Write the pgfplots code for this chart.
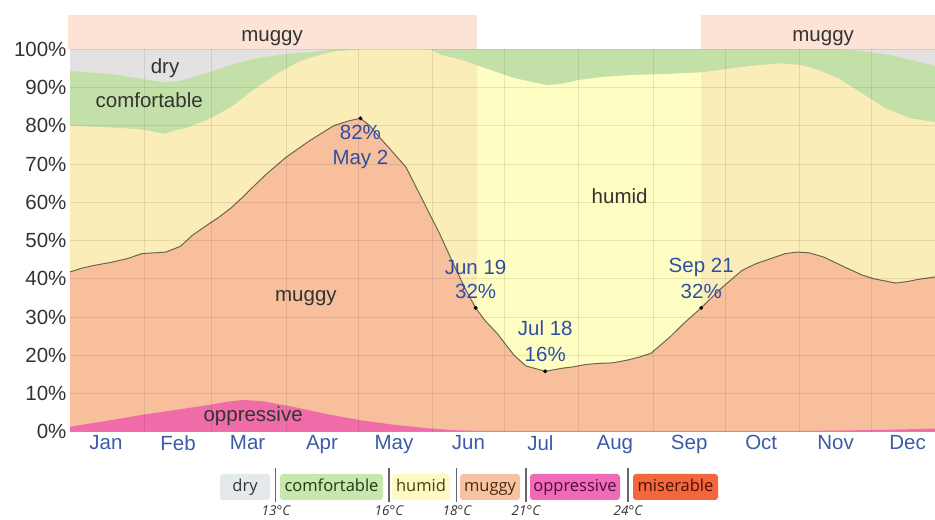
\documentclass[border=0pt]{standalone}
\usepackage{pgfplots}
\usepackage{pgfplotstable}
\pgfplotsset{compat=1.18}
\usepackage{fontspec}
\setmainfont{Liberation Sans}
\newfontfamily\legfont{Open Sans}

\definecolor{drycol}{HTML}{E3E1E1}
\definecolor{comcol}{HTML}{C4E0A9}
\definecolor{humcol}{HTML}{FBEDB7}
\definecolor{humcolmid}{HTML}{FFFEC2}
\definecolor{mugcol}{HTML}{F8BF9D}
\definecolor{oppcol}{HTML}{F06CA9}
\definecolor{bandcol}{HTML}{FCE3D6}
\definecolor{tickblue}{HTML}{3A5BA8}
\definecolor{annblue}{HTML}{2F4FA6}
\definecolor{labgray}{HTML}{333333}
\definecolor{linecol}{HTML}{6B6650}
\definecolor{Ldry}{HTML}{E4E9EC}
\definecolor{Lcom}{HTML}{C7E7AE}
\definecolor{Lhum}{HTML}{FFF9C6}
\definecolor{Lmug}{HTML}{F8C3A2}
\definecolor{Lopp}{HTML}{F06BB5}
\definecolor{Lmis}{HTML}{F4673D}

\pgfplotstableread{
day v
0 100
360.4 100
}\toptab
\pgfplotstableread{
day v
0 94.4
8 94.0
17 93.6
30 92.3
40 91.4
46 91.8
51 92.7
58 94.0
68 96.2
79 97.9
90 98.8
100 99.3
110 100
322 100
330 99.6
342 98.5
352 97.0
360.4 95.7
}\drytab
\pgfplotstableread{
day v
0 80.1
8 79.8
17 79.6
25 79.3
31 79.0
39 77.9
44 78.8
49 79.6
58 81.8
63 83.5
68 85.3
76 89.2
86 93.6
96 97.0
103 98.4
110 99.5
120 100
150 100
155 98.5
163 97.3
169.6 95.8
171 95.5
185 92.5
199 90.6
205 91.0
212 92.0
222 92.8
234 93.3
250 93.6
262.9 94.0
275 95.0
285 95.8
296 96.4
305 95.9
312 94.6
320 92.5
330 88.5
340 84.5
350 82.0
360.4 81.0
}\humtab
\pgfplotstableread{
day v
0 41.8
5 42.8
10 43.5
17 44.3
24 45.3
30 46.6
40 47.0
46 48.5
51 51.4
57 54.0
62 56.1
67 58.5
72 61.4
77 64.5
82 67.5
90 71.8
100 76.2
110 80.1
116 81.3
121 82.0
125 80.0
129 77.0
134 73.5
140 69.2
145 63.0
149 58.0
154 51.8
161 42.2
165 37.0
169 32.4
173 29.0
178 25.7
185 20.0
190 17.2
198 15.8
205 16.6
210 17.0
215 17.6
221 17.9
226 18.0
232 18.7
237 19.5
242 20.5
250 24.8
256 28.5
263 32.4
268 35.5
272 37.9
280 42.2
286 44.0
292 45.3
298 46.6
303 47.0
308 46.8
314 45.7
319 44.2
324 42.7
330 41.0
335 40.0
344 38.9
349 39.3
353 39.8
360.4 40.5
}\mugtab
\pgfplotstableread{
day v
0 1.3
15 2.8
30 4.4
45 5.8
58 7.0
65 7.8
72 8.3
80 8.0
93 6.5
107 4.6
121 3.0
135 1.8
149 0.9
160 0.4
170 0.2
200 0.15
300 0.15
320 0.3
340 0.5
360.4 0.8
}\opptab

\begin{document}
\begin{tikzpicture}
\useasboundingbox (0,0) rectangle (935bp,520bp);
\begin{axis}[
  at={(70bp,88.3bp)}, anchor=south west, scale only axis,
  width=865bp, height=382.2bp,
  xmin=0, xmax=360.4, ymin=0, ymax=100,
  axis on top, clip=false,
  axis line style={draw=none},
  xtick={15,45,74,105,135,166,196,227,258,288,319,349},
  xticklabels={Jan,Feb,Mar,Apr,May,Jun,Jul,Aug,Sep,Oct,Nov,Dec},
  minor xtick={31,59,90,120,151,181,212,243,273,304,334},
  xmajorgrids=false, xminorgrids=true, ymajorgrids=true,
  ytick={0,10,...,100},
  yticklabels={0\%,10\%,20\%,30\%,40\%,50\%,60\%,70\%,80\%,90\%,100\%},
  major tick length=0pt, minor tick length=0pt,
  grid style={black, opacity=0.09, line width=0.9bp},
  minor grid style={black, opacity=0.09, line width=0.9bp},
  tick label style={font=\fontsize{20.5bp}{24bp}\selectfont},
  xticklabel style={text=tickblue},
  yticklabel style={text=labgray},
]
% top band
\fill[bandcol] (axis cs:-0.8,100.2) rectangle (axis cs:169.6,109);
\fill[bandcol] (axis cs:262.9,100.2) rectangle (axis cs:360.4,109);

\addplot[fill=drycol, draw=none] table[x=day,y=v] {\toptab} \closedcycle;
\addplot[fill=comcol, draw=none] table[x=day,y=v] {\drytab} \closedcycle;
\addplot[fill=humcol, draw=none] table[x=day,y=v] {\humtab} \closedcycle;
\addplot[fill=humcolmid, draw=none, restrict x to domain=169.5:263] table[x=day,y=v] {\humtab} \closedcycle;
\addplot[fill=mugcol, draw=none] table[x=day,y=v] {\mugtab} \closedcycle;
\addplot[fill=oppcol, draw=none] table[x=day,y=v] {\opptab} \closedcycle;

\addplot[linecol, line width=1bp] table[x=day,y=v] {\mugtab};
\addplot[only marks, mark=*, mark size=1.8bp, black] coordinates {(121,82) (169,32.4) (198,15.8) (263,32.4)};

% labels
\node[text=labgray, font=\fontsize{20.5bp}{24bp}\selectfont] at (axis cs:84.2,102.9) {muggy};
\node[text=labgray, font=\fontsize{20.5bp}{24bp}\selectfont] at (axis cs:313.8,102.9) {muggy};
\node[text=labgray, font=\fontsize{20.5bp}{24bp}\selectfont] at (axis cs:39.6,95.0) {dry};
\node[text=labgray, font=\fontsize{20.5bp}{24bp}\selectfont] at (axis cs:33,86.8) {comfortable};
\node[text=labgray, font=\fontsize{20.5bp}{24bp}\selectfont] at (axis cs:229,61.6) {humid};
\node[text=labgray, font=\fontsize{20.5bp}{24bp}\selectfont] at (axis cs:98.3,35) {muggy};
\node[text=labgray, font=\fontsize{20.5bp}{24bp}\selectfont] at (axis cs:76.3,4.1) {oppressive};
\node[text=annblue, font=\fontsize{20.5bp}{24bp}\selectfont] at (axis cs:121,78.2) {82\%};
\node[text=annblue, font=\fontsize{20.5bp}{24bp}\selectfont] at (axis cs:121,71.1) {May 2};
\node[text=annblue, font=\fontsize{20.5bp}{24bp}\selectfont] at (axis cs:169,43.1) {Jun 19};
\node[text=annblue, font=\fontsize{20.5bp}{24bp}\selectfont] at (axis cs:169,36.8) {32\%};
\node[text=annblue, font=\fontsize{20.5bp}{24bp}\selectfont] at (axis cs:198,27.1) {Jul 18};
\node[text=annblue, font=\fontsize{20.5bp}{24bp}\selectfont] at (axis cs:198,20.3) {16\%};
\node[text=annblue, font=\fontsize{20.5bp}{24bp}\selectfont] at (axis cs:263,43.1) {Sep 21};
\node[text=annblue, font=\fontsize{20.5bp}{24bp}\selectfont] at (axis cs:263,36.8) {32\%};
\end{axis}

% legend
\tikzset{lb/.style={rounded corners=3bp, inner sep=0pt, minimum height=26bp, text height=12.5bp, text depth=3.5bp, anchor=center, font=\legfont\fontsize{16.5bp}{20bp}\selectfont}}
\node[lb, fill=Ldry, minimum width=50bp, text=labgray] at (245bp,33bp) {dry};
\node[lb, fill=Lcom, minimum width=103bp, text={rgb,255:red,30;green,58;blue,16}] at (331.5bp,33bp) {comfortable};
\node[lb, fill=Lhum, minimum width=58bp, text={rgb,255:red,72;green,64;blue,0}] at (421bp,33bp) {humid};
\node[lb, fill=Lmug, minimum width=60bp, text={rgb,255:red,74;green,42;blue,16}] at (490bp,33bp) {muggy};
\node[lb, fill=Lopp, minimum width=90bp, text={rgb,255:red,80;green,10;blue,64}] at (575bp,33bp) {oppressive};
\node[lb, fill=Lmis, minimum width=85bp, text={rgb,255:red,74;green,16;blue,5}] at (675.5bp,33bp) {miserable};
\foreach \xx in {275.7,389,456.7,526,628} {
  \draw[gray!80!black, line width=1.2bp] (\xx bp,18bp) -- (\xx bp,52bp);
}
\foreach \xx/\tl in {276/13°C,389/16°C,457/18°C,526/21°C,628/24°C} {
  \node[text=labgray, font=\legfont\itshape\fontsize{13.5bp}{16bp}\selectfont, inner sep=1bp] at (\xx bp,9bp) {\tl};
}
\end{tikzpicture}
\end{document}
